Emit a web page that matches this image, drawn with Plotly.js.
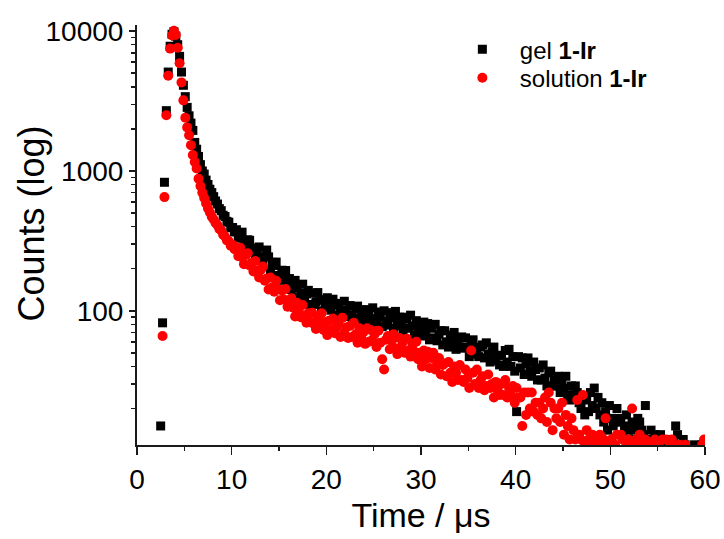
<!DOCTYPE html>
<html><head><meta charset="utf-8">
<script src="https://cdn.plot.ly/plotly-3.0.1.min.js"></script>
<style>html,body{margin:0;padding:0;background:#fff}#chart{width:724px;height:539px}</style>
</head><body><div id="chart"></div>
<script>
// Time axis (microseconds)
const time = [
2.5,2.7,2.9,3.1,3.3,3.5,3.7,3.9,4.1,4.3,
4.5,4.7,4.9,5.1,5.3,5.5,5.7,5.9,6.1,6.3,
6.5,6.7,6.9,7.1,7.3,7.5,7.7,7.9,8.1,8.3,
8.5,8.7,8.9,9.1,9.3,9.5,9.7,9.9,10.1,10.3,
10.5,10.7,10.9,11.1,11.3,11.5,11.7,11.9,12.1,12.3,
12.5,12.7,12.9,13.1,13.3,13.5,13.7,13.9,14.1,14.3,
14.5,14.7,14.9,15.1,15.3,15.5,15.7,15.9,16.1,16.3,
16.5,16.7,16.9,17.1,17.3,17.5,17.7,17.9,18.1,18.3,
18.5,18.7,18.9,19.1,19.3,19.5,19.7,19.9,20.1,20.3,
20.5,20.7,20.9,21.1,21.3,21.5,21.7,21.9,22.1,22.3,
22.5,22.7,22.9,23.1,23.3,23.5,23.7,23.9,24.1,24.3,
24.5,24.7,24.9,25.1,25.3,25.5,25.7,25.9,26.1,26.3,
26.5,26.7,26.9,27.1,27.3,27.5,27.7,27.9,28.1,28.3,
28.5,28.7,28.9,29.1,29.3,29.5,29.7,29.9,30.1,30.3,
30.5,30.7,30.9,31.1,31.3,31.5,31.7,31.9,32.1,32.3,
32.5,32.7,32.9,33.1,33.3,33.5,33.7,33.9,34.1,34.3,
34.5,34.7,34.9,35.1,35.3,35.5,35.7,35.9,36.1,36.3,
36.5,36.7,36.9,37.1,37.3,37.5,37.7,37.9,38.1,38.3,
38.5,38.7,38.9,39.1,39.3,39.5,39.7,39.9,40.1,40.3,
40.5,40.7,40.9,41.1,41.3,41.5,41.7,41.9,42.1,42.3,
42.5,42.7,42.9,43.1,43.3,43.5,43.7,43.9,44.1,44.3,
44.5,44.7,44.9,45.1,45.3,45.5,45.7,45.9,46.1,46.3,
46.5,46.7,46.9,47.1,47.3,47.5,47.7,47.9,48.1,48.3,
48.5,48.7,48.9,49.1,49.3,49.5,49.7,49.9,50.1,50.3,
50.5,50.7,50.9,51.1,51.3,51.5,51.7,51.9,52.1,52.3,
52.5,52.7,52.9,53.1,53.3,53.5,53.7,53.9,54.1,54.3,
54.5,54.7,54.9,55.1,55.3,55.5,55.7,55.9,56.1,56.3,
56.5,56.7,56.9,57.1,57.3,57.5,57.7,57.9,58.1,58.3,
58.5,58.7,58.9,59.1,59.3,59.5,59.7,59.9
];

// gel 1-Ir counts
const gelCounts = [
15,82,830,2700,5100,7800,9500,9900,9200,8000,
6600,5100,4100,3400,2850,2480,2200,1950,1600,1430,
1270,1110,1000,950,860,800,740,700,655,610,
580,538,520,482,472,436,430,392,394,366,
380,331,349,365,306,282,322,319,266,278,
248,280,286,241,214,244,272,243,195,222,
211,223,179,165,195,173,194,154,170,142,
146,165,152,124,134,155,123,132,140,111,
134,111,116,135,119,100,120,106,124,109,
101,121,110,93,113,100,93,117,101,91,
109,93,83,103,108,88,97,84,102,90,
97,81,105,88,83,98,90,77,100,84,
79,97,89,75,99,82,90,78,71,90,
87,75,93,78,67,85,71,78,66,83,
71,81,62,75,64,80,61,68,72,57,
72,60,55,67,61,70,53,61,55,65,
54,64,55,47,59,62,49,54,47,55,
57,46,59,49,43,51,55,44,48,41,
48,40,52,43,53,40,47,37,19,47,
39,46,35,42,46,37,34,43,38,32,
39,32,41,33,29,36,37,29,32,29,
34,26,31,28,34,25,23,29,25,29,
26,22,20,24,18,23,19,26,21,28,
20,24,18,22,16,19,14,21,17,15,
16,20,17,16,13,15,18,14,12,16,
14,12,17,16,14,13,21,12,11,14,
12,13,10,11,13,12,9,11,12,10,
11,12,15,13,10,11,12,11,9,10,
10,9,11,10,9,10,11,10
];

// solution 1-Ir counts
const solutionCounts = [
9,66,650,2500,4800,7500,9300,10050,9400,7600,
5900,4300,3200,2400,2050,1800,1530,1300,1160,1040,
880,780,700,640,585,540,505,470,450,425,
410,385,376,350,340,318,314,292,296,276,
283,246,282,241,215,251,258,211,220,191,
227,194,173,197,207,164,170,142,173,147,
137,164,143,119,140,121,143,107,114,123,
105,91,114,103,90,110,92,82,96,83,
97,80,74,89,82,96,73,83,67,85,
73,88,69,77,82,65,89,70,76,64,
78,65,82,68,59,75,63,70,58,75,
60,73,62,68,55,72,59,45,38,62,
66,53,61,68,54,49,64,55,60,50,
63,52,47,57,51,60,45,50,40,52,
45,51,39,46,50,38,42,46,35,41,
42,34,43,36,31,40,36,32,41,32,
31,38,33,28,52,36,30,38,28,32,
34,27,29,35,28,30,24,31,27,25,
30,25,32,24,28,25,29,22,28,24,
24,15,26,18,26,20,26,19,22,18,
22,17,20,24,16,26,22,14,20,17,
20,16,22,13,18,15,12,17,14,12,
23,13,12,25,11,14,12,10,13,11,
12,11,13,10,12,17,11,9,12,11,
11,13,10,13,12,9,11,12,10,20,
11,12,9,13,11,10,12,9,11,10,
10,12,9,11,10,12,9,12,10,11,
12,11,10,9,11,10,9,11,10,9,
9,10,9,10,9,10,11,12
];

const seriesNames = ['gel <b>1-Ir</b>', 'solution <b>1-Ir</b>'];
const xTitle = 'Time / \u03BCs';
const yTitle = 'Counts (log)';

const FONT = 'Liberation Sans, Arial, Helvetica, sans-serif';
const AX = '#1a1a1a';

const traces = [
  {x: time, y: gelCounts, type: 'scatter', mode: 'markers', name: seriesNames[0], legend: 'legend',
   marker: {symbol: 'square', size: 9, color: '#000000'}, cliponaxis: true},
  {x: time, y: solutionCounts, type: 'scatter', mode: 'markers', name: seriesNames[1], legend: 'legend2',
   marker: {symbol: 'circle', size: 10, color: '#ff0000'}, cliponaxis: true}
];

const legendBase = {xanchor: 'left', yanchor: 'top', font: {size: 24, family: FONT, color: '#000'},
                    itemwidth: 65, bgcolor: 'rgba(0,0,0,0)', borderwidth: 0};

const layout = {
  width: 724, height: 539,
  margin: {l: 137, r: 19, t: 25, b: 94},
  paper_bgcolor: '#ffffff', plot_bgcolor: '#ffffff',
  font: {family: FONT, color: '#000000'},
  showlegend: true,
  legend: Object.assign({}, legendBase, {x: 0.542, y: 0.995}),
  legend2: Object.assign({}, legendBase, {x: 0.542, y: 0.927}),
  xaxis: {range: [0, 60], tick0: 0, dtick: 10, ticks: 'outside', ticklen: 8, tickwidth: 1.5,
          tickcolor: AX, showline: true, linewidth: 2, linecolor: AX, showgrid: false, zeroline: false,
          tickfont: {size: 28}, mirror: false,
          minor: {ticks: 'outside', dtick: 5, ticklen: 4, tickwidth: 1.5, tickcolor: AX, showgrid: false},
          title: {text: xTitle, font: {size: 34}, standoff: 10}},
  yaxis: {type: 'log', range: [1.04, 4.044], tick0: 0, dtick: 1, tickformat: 'd', ticks: 'outside',
          ticklen: 6, tickwidth: 1.5, tickcolor: AX, showline: true, linewidth: 2, linecolor: AX,
          showgrid: false, zeroline: false, tickfont: {size: 28},
          minor: {ticks: 'outside', dtick: 'D1', ticklen: 4, tickwidth: 1.5, tickcolor: AX, showgrid: false}},
  annotations: [{text: yTitle, xref: 'paper', yref: 'paper', x: -0.185, y: 0.527,
                 xanchor: 'center', yanchor: 'middle', textangle: -90, showarrow: false,
                 font: {size: 36, family: FONT}}]
};

Plotly.newPlot('chart', traces, layout, {displayModeBar: false, staticPlot: true});
</script>
</body></html>
